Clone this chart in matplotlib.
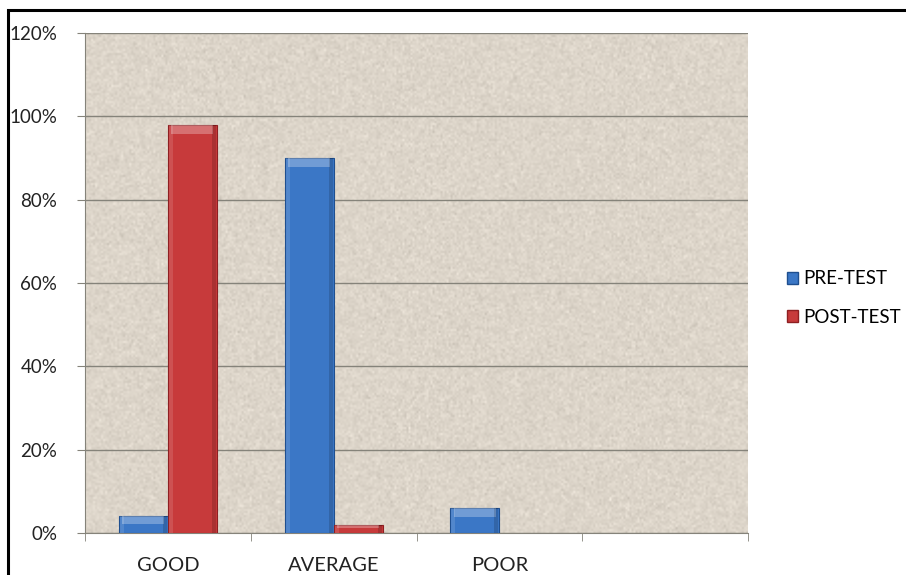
import matplotlib
matplotlib.use("Agg")
import matplotlib.pyplot as plt
import numpy as np
from matplotlib.patches import Rectangle, Patch

categories = ["GOOD", "AVERAGE", "POOR", ""]
pre_test = [4, 90, 6, 0]
post_test = [98, 2, 0, 0]
series_names = ["PRE-TEST", "POST-TEST"]
yticks = [0, 20, 40, 60, 80, 100, 120]

blue = "#3b77c6"
blue_dark = "#1f4f8f"
red = "#c73a3b"
red_dark = "#8e1f22"

plt.rcParams["font.family"] = ["Lato", "DejaVu Sans"]

fig = plt.figure(figsize=(9.06, 5.75), dpi=100)
ax = fig.add_axes([85 / 906, 42 / 575, 663 / 906, 500 / 575])

# stone-like background for the plot area
rng = np.random.default_rng(3)
tex = rng.normal(0, 1, (250, 330))
base = np.array([0.865, 0.835, 0.79])
img = np.clip(base[None, None, :] + 0.025 * tex[..., None], 0, 1)
ax.imshow(img, extent=[-0.5, 3.5, 0, 120], aspect="auto", zorder=0,
          interpolation="bilinear")

x = np.arange(len(categories))
w = 0.295
for vals, col, dark, off in [(pre_test, blue, blue_dark, -w / 2),
                             (post_test, red, red_dark, w / 2)]:
    for xi, v in zip(x, vals):
        if v <= 0:
            continue
        ax.bar(xi + off, v, w, color=col, edgecolor=dark, linewidth=0.8, zorder=3)
        # bevel highlight on top and sides
        cap = min(2.2, v * 0.45)
        ax.bar(xi + off, cap, w * 0.86, bottom=v - cap, color="white",
               alpha=0.28, linewidth=0, zorder=4)
        ax.bar(xi + off - w * 0.44, v, w * 0.08, color="white", alpha=0.12,
               linewidth=0, zorder=4)
        ax.bar(xi + off + w * 0.44, v, w * 0.08, color="black", alpha=0.15,
               linewidth=0, zorder=4)

ax.set_xlim(-0.5, 3.5)
ax.set_ylim(0, 120)
ax.set_yticks(yticks)
ax.set_yticklabels([f"{t}%" for t in yticks])
ax.yaxis.grid(True, color="#85837a", linewidth=1.0, zorder=1)
ax.set_axisbelow(False)
for gl in ax.get_ygridlines():
    gl.set_zorder(1)

ax.set_xticks(x)
ax.set_xticklabels(categories)
ax.set_xticks(np.arange(-0.5, 4.0, 1.0), minor=True)
ax.tick_params(axis="x", which="major", length=0, pad=17, labelsize=14.5,
               colors="#222222")
ax.tick_params(axis="x", which="minor", length=6, color="#85837a", direction="out")
ax.tick_params(axis="y", length=6, color="#85837a", pad=14, labelsize=13.5,
               colors="#222222")

for s in ["top", "right"]:
    ax.spines[s].set_visible(False)
ax.spines["left"].set_color("#85837a")
ax.spines["bottom"].set_color("#85837a")

handles = [Patch(facecolor=blue, edgecolor=blue_dark),
           Patch(facecolor=red, edgecolor=red_dark)]
fig.legend(handles, series_names, loc="center left",
           bbox_to_anchor=(770 / 906, 1 - 298 / 575), frameon=False,
           fontsize=13.5, handlelength=0.6, handleheight=0.6,
           handletextpad=0.25, labelspacing=1.15)

# outer frame
fig.patches.append(Rectangle((8 / 906, -0.1), 1.2, (575 - 10) / 575 + 0.1,
                             transform=fig.transFigure, fill=False,
                             edgecolor="black", linewidth=2.2))

fig.savefig("out.png", dpi=100)
